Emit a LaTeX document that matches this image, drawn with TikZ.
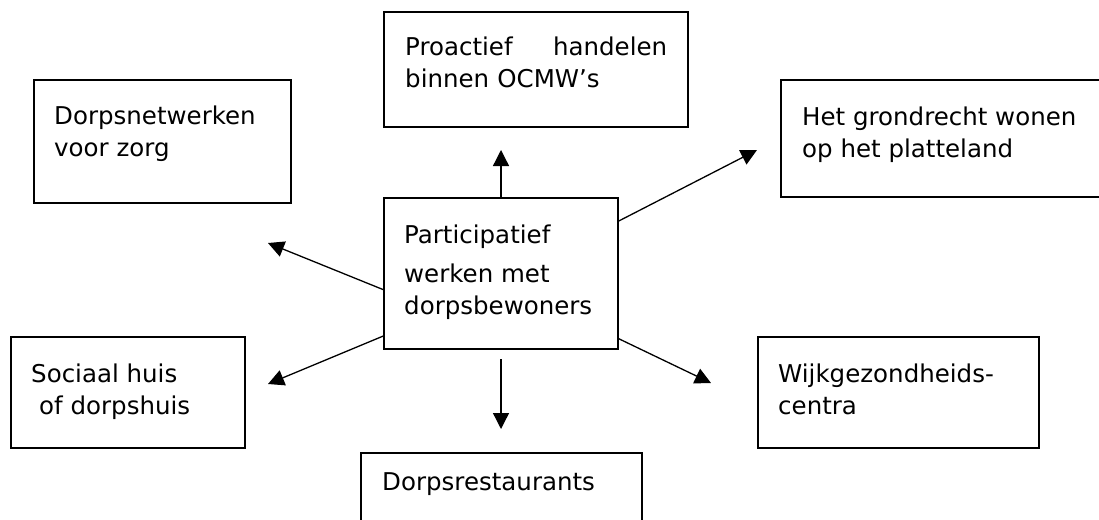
\documentclass[tikz,border=0pt]{standalone}
\usepackage{fontspec}
\setmainfont{DejaVu Sans}
\usetikzlibrary{arrows.meta, positioning}

\begin{document}
\begin{tikzpicture}[
  x=1pt, y=-1pt,
  >={Triangle[length=16pt, width=16pt]},
  every node/.style={font=\fontsize{24.5}{32}\selectfont},
  kader/.style={draw, line width=1.4pt, inner sep=0pt, outer sep=0pt, anchor=north west},
  tekst/.style={inner sep=0pt, align=left},
  pijl/.style={->, line width=1.3pt}
]
  \useasboundingbox (0,0) rectangle (1099,519);

  % kaders
  \node[kader, minimum width=304pt, minimum height=115pt] (proactief) at (384,12) {};
  \node[kader, minimum width=257pt, minimum height=123pt] (netwerk)   at (34,80)   {};
  \node[kader, minimum width=340pt, minimum height=117pt] (grond)     at (781,80)  {};
  \node[kader, minimum width=234pt, minimum height=151pt] (centre)    at (384,198) {};
  \node[kader, minimum width=234pt, minimum height=111pt] (sociaal)   at (11,337)  {};
  \node[kader, minimum width=281pt, minimum height=111pt] (wijk)      at (758,337) {};
  \node[kader, minimum width=281pt, minimum height=100pt] (rest)      at (361,453) {};

  % teksten
  \node[tekst, below right=25pt and 21pt of proactief.north west, text width=262pt] (proactief-t)
    {Proactief\hfill handelen\\binnen OCMW’s};
  \node[tekst, below right=26pt and 20pt of netwerk.north west] (netwerk-t)
    {Dorpsnetwerken\\voor zorg};
  \node[tekst, below right=27pt and 21pt of grond.north west] (grond-t)
    {Het grondrecht wonen\\op het platteland};
  \node[tekst, below right=27pt and 20pt of centre.north west] (centre-t)
    {Participatief\\[7pt]werken met\\dorpsbewoners};
  \node[tekst, below right=27pt and 20pt of sociaal.north west] (sociaal-t)
    {Sociaal huis\\\hspace*{8pt}of dorpshuis};
  \node[tekst, below right=27pt and 20pt of wijk.north west] (wijk-t)
    {Wijkgezondheids-\\centra};
  \node[tekst, below right=19pt and 21pt of rest.north west] (rest-t)
    {Dorpsrestaurants};

  % pijlpunten
  \coordinate (tip-proactief) at (501,150);
  \coordinate (tip-grond)     at (757,150);
  \coordinate (tip-netwerk)   at (268,243);
  \coordinate (tip-sociaal)   at (268,384);
  \coordinate (tip-wijk)      at (711,383);
  \coordinate (tip-rest)      at (501,429);

  \draw[pijl] (centre.north)  -- (tip-proactief);
  \draw[pijl] (centre.24.6)   -- (tip-grond);
  \draw[pijl] (centre.188)    -- (tip-netwerk);
  \draw[pijl] (centre.208.5)  -- (tip-sociaal);
  \draw[pijl] (centre.331.1)  -- (tip-wijk);
  \draw[pijl, shorten <=10pt] (centre.south) -- (tip-rest);
\end{tikzpicture}
\end{document}
